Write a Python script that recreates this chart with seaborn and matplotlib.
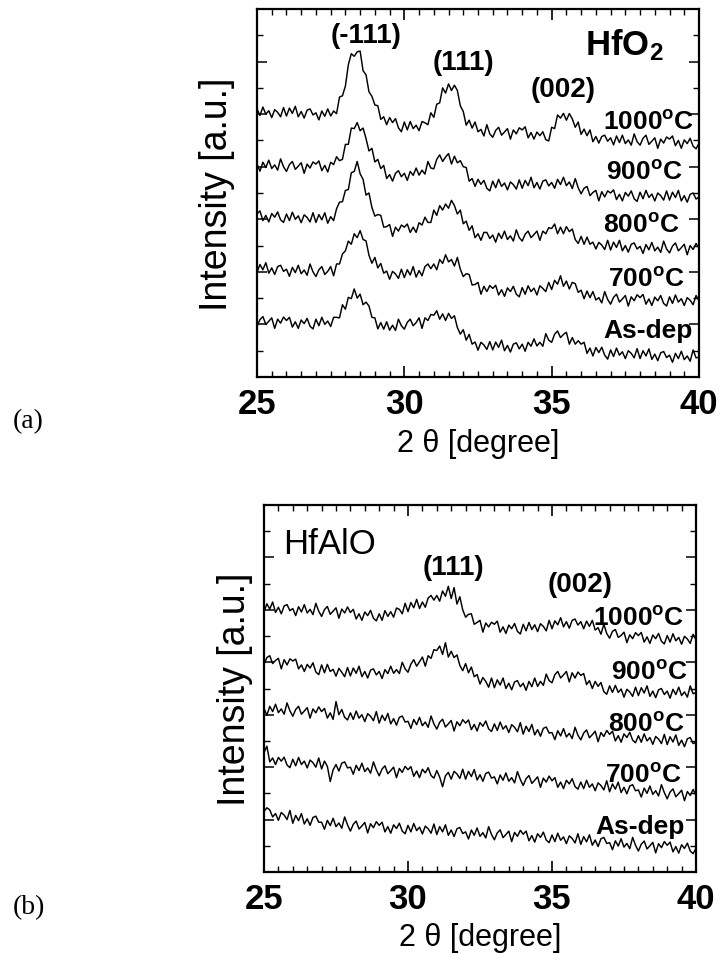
import numpy as np
import pandas as pd
import matplotlib
matplotlib.use("Agg")
import matplotlib.pyplot as plt
import seaborn as sns
from matplotlib.ticker import MultipleLocator

# ---------------- data ----------------
two_theta = np.linspace(25.0, 40.0, 151)   # scan grid, 0.1 deg step

# (a) HfO2
hfo2_1000 = [10.20, 9.95, 10.27, 10.00, 10.13, 9.87, 10.17, 10.07, 9.90, 10.25,
             9.93, 10.23, 10.03, 10.30, 9.90, 10.10, 9.85, 10.15, 10.20, 9.97,
             10.05, 9.78, 10.12, 9.92, 10.20, 9.93, 10.12, 10.02, 10.65, 10.70,
             11.07, 11.88, 12.30, 12.20, 12.37, 12.40, 11.65, 11.50, 10.85, 10.68,
             10.35, 10.32, 9.80, 9.90, 9.60, 9.87, 9.68, 9.83, 9.48, 9.33,
             9.70, 9.40, 9.72, 9.45, 9.58, 9.37, 9.72, 9.67, 9.60, 10.05,
             9.88, 10.38, 10.43, 11.00, 10.80, 11.15, 10.90, 11.10, 10.90, 10.32,
             10.10, 9.58, 9.77, 9.47, 9.70, 9.33, 9.42, 9.17, 9.60, 9.25,
             9.12, 9.38, 9.50, 9.20, 9.32, 9.45, 9.05, 9.40, 9.25, 9.48,
             9.40, 9.52, 9.10, 9.30, 9.05, 9.32, 9.18, 9.33, 9.03, 8.98,
             9.50, 9.45, 9.97, 9.85, 10.03, 9.77, 10.02, 9.82, 9.50, 9.70,
             9.23, 9.43, 9.18, 9.40, 8.95, 9.15, 8.90, 9.15, 9.20, 8.97,
             9.10, 8.83, 9.17, 8.92, 9.20, 8.88, 9.02, 8.82, 9.25, 8.95,
             8.82, 9.08, 9.20, 8.85, 8.97, 9.10, 8.70, 9.05, 8.90, 9.13,
             9.05, 9.17, 8.80, 9.00, 8.70, 9.02, 8.88, 9.08, 8.78, 8.68,
             8.90]
hfo2_900 = [8.10, 7.83, 8.17, 7.97, 8.25, 7.93, 8.07, 7.87, 8.30, 8.00,
            7.82, 8.08, 8.20, 7.90, 8.02, 8.15, 7.75, 8.10, 7.95, 8.18,
            8.10, 8.22, 7.85, 8.05, 7.80, 8.17, 8.08, 8.38, 8.23, 8.28,
            8.85, 8.85, 9.47, 9.45, 9.68, 9.37, 9.47, 9.07, 8.60, 8.70,
            8.18, 8.28, 7.93, 8.05, 7.55, 7.70, 7.45, 7.75, 7.85, 7.62,
            7.75, 7.48, 7.82, 7.67, 7.95, 7.68, 7.87, 7.72, 8.20, 7.95,
            7.92, 8.28, 8.45, 8.20, 8.37, 8.50, 8.10, 8.40, 8.15, 8.23,
            8.00, 7.97, 7.45, 7.55, 7.25, 7.52, 7.33, 7.48, 7.18, 7.08,
            7.45, 7.20, 7.52, 7.25, 7.38, 7.12, 7.42, 7.32, 7.15, 7.50,
            7.18, 7.48, 7.28, 7.60, 7.20, 7.40, 7.15, 7.45, 7.50, 7.27,
            7.40, 7.18, 7.52, 7.32, 7.60, 7.28, 7.42, 7.17, 7.55, 7.20,
            6.97, 7.18, 7.25, 6.90, 7.02, 7.10, 6.70, 7.05, 6.85, 7.08,
            7.00, 7.12, 6.75, 6.95, 6.70, 7.02, 6.88, 7.08, 6.78, 6.68,
            7.03, 6.78, 7.10, 6.83, 6.96, 6.70, 7.00, 6.90, 6.73, 7.08,
            6.73, 7.03, 6.83, 7.10, 6.70, 6.90, 6.65, 6.95, 7.00, 6.77,
            6.85]
hfo2_800 = [6.20, 6.32, 5.95, 6.15, 5.90, 6.22, 6.08, 6.28, 5.98, 5.88,
            6.20, 5.95, 6.27, 6.00, 6.13, 5.87, 6.17, 6.07, 5.90, 6.25,
            5.88, 6.18, 5.98, 6.25, 5.85, 6.10, 5.95, 6.40, 6.65, 6.67,
            7.10, 7.13, 7.77, 7.82, 8.20, 7.73, 7.52, 6.92, 7.00, 6.45,
            6.12, 6.18, 6.15, 5.70, 5.72, 5.80, 5.35, 5.70, 5.55, 5.78,
            5.70, 5.82, 5.50, 5.70, 5.50, 5.87, 5.78, 6.08, 5.88, 5.88,
            6.35, 6.15, 6.52, 6.35, 6.58, 6.42, 6.72, 6.52, 6.20, 6.35,
            5.83, 5.93, 5.58, 5.75, 5.30, 5.45, 5.20, 5.50, 5.50, 5.27,
            5.40, 5.13, 5.47, 5.27, 5.55, 5.23, 5.37, 5.17, 5.60, 5.30,
            5.17, 5.43, 5.55, 5.30, 5.42, 5.55, 5.20, 5.55, 5.45, 5.68,
            5.65, 5.82, 5.45, 5.70, 5.45, 5.72, 5.53, 5.63, 5.23, 5.08,
            5.35, 5.05, 5.32, 5.05, 5.13, 4.87, 5.12, 5.02, 4.85, 5.20,
            4.83, 5.13, 4.93, 5.20, 4.80, 5.00, 4.75, 5.05, 5.10, 4.87,
            4.97, 4.70, 5.04, 4.84, 5.12, 4.80, 4.94, 4.74, 5.17, 4.87,
            4.72, 4.98, 5.10, 4.80, 4.92, 5.05, 4.65, 5.00, 4.85, 5.08,
            4.90]
hfo2_700 = [3.98, 4.28, 4.08, 4.35, 3.95, 4.15, 3.90, 4.20, 4.25, 4.02,
            4.10, 3.83, 4.17, 3.97, 4.25, 3.93, 4.07, 3.87, 4.30, 4.00,
            3.82, 4.08, 4.20, 3.90, 4.02, 4.20, 3.85, 4.30, 4.30, 4.68,
            4.80, 5.17, 5.05, 5.45, 5.30, 5.57, 5.23, 5.18, 4.63, 4.33,
            4.55, 4.15, 4.32, 3.95, 4.03, 3.72, 4.02, 3.92, 3.75, 4.10,
            3.78, 4.08, 3.88, 4.20, 3.80, 4.05, 3.85, 4.20, 4.30, 4.12,
            4.30, 4.08, 4.47, 4.32, 4.65, 4.38, 4.47, 4.22, 4.55, 4.10,
            3.82, 3.93, 3.90, 3.50, 3.52, 3.60, 3.15, 3.45, 3.25, 3.48,
            3.37, 3.49, 3.12, 3.32, 3.07, 3.39, 3.25, 3.45, 3.15, 3.05,
            3.40, 3.15, 3.47, 3.25, 3.38, 3.12, 3.47, 3.37, 3.25, 3.60,
            3.33, 3.68, 3.53, 3.85, 3.45, 3.65, 3.35, 3.60, 3.55, 3.22,
            3.30, 2.98, 3.27, 3.02, 3.25, 2.93, 3.02, 2.82, 3.25, 2.95,
            2.77, 3.03, 3.15, 2.85, 2.97, 3.10, 2.70, 3.05, 2.90, 3.13,
            3.02, 3.14, 2.77, 2.97, 2.72, 3.04, 2.90, 3.10, 2.80, 2.70,
            3.05, 2.80, 3.12, 2.85, 2.98, 2.72, 3.02, 2.92, 2.75, 3.10,
            2.90]
hfo2_asdep = [1.92, 2.18, 2.30, 2.00, 2.12, 2.25, 1.85, 2.20, 2.05, 2.28,
              2.15, 2.27, 1.90, 2.10, 1.85, 2.17, 2.03, 2.23, 1.93, 1.83,
              2.20, 1.95, 2.27, 2.00, 2.13, 1.92, 2.27, 2.27, 2.25, 2.75,
              2.58, 3.03, 2.98, 3.35, 3.00, 3.15, 2.75, 2.85, 2.70, 2.27,
              2.25, 1.83, 2.07, 1.82, 2.10, 1.78, 1.97, 1.77, 2.20, 1.95,
              1.82, 2.08, 2.20, 1.95, 2.07, 2.25, 1.85, 2.25, 2.15, 2.38,
              2.35, 2.52, 2.20, 2.40, 2.15, 2.42, 2.23, 2.33, 1.88, 1.63,
              1.80, 1.40, 1.62, 1.25, 1.33, 1.02, 1.32, 1.22, 1.05, 1.35,
              1.03, 1.33, 1.13, 1.40, 1.00, 1.20, 0.95, 1.25, 1.30, 1.07,
              1.25, 0.98, 1.32, 1.17, 1.45, 1.18, 1.32, 1.17, 1.65, 1.40,
              1.32, 1.63, 1.75, 1.50, 1.62, 1.70, 1.25, 1.50, 1.25, 1.38,
              1.25, 1.32, 0.90, 1.10, 0.80, 1.12, 0.93, 1.13, 0.83, 0.68,
              1.03, 0.78, 1.10, 0.83, 0.96, 0.70, 1.00, 0.90, 0.73, 1.08,
              0.70, 1.00, 0.80, 1.07, 0.67, 0.87, 0.62, 0.92, 0.97, 0.74,
              0.83, 0.56, 0.90, 0.70, 0.98, 0.66, 0.80, 0.60, 1.03, 0.73,
              0.75]

# (b) HfAlO
hfalo_1000 = [9.93, 10.23, 10.03, 10.30, 9.90, 10.10, 9.85, 10.15, 10.20, 9.97,
              10.05, 9.78, 10.12, 9.92, 10.20, 9.88, 10.02, 9.82, 10.25, 9.95,
              9.75, 10.01, 10.13, 9.83, 9.95, 10.08, 9.68, 10.03, 9.88, 10.11,
              9.90, 10.02, 9.65, 9.85, 9.60, 9.92, 9.78, 9.98, 9.68, 9.58,
              9.85, 9.60, 9.97, 9.75, 9.93, 9.72, 10.07, 10.02, 9.85, 10.25,
              9.93, 10.28, 10.08, 10.40, 10.05, 10.30, 10.10, 10.45, 10.55, 10.37,
              10.55, 10.33, 10.72, 10.52, 10.90, 10.43, 10.85, 10.22, 10.50, 10.00,
              9.72, 9.83, 9.85, 9.45, 9.52, 9.60, 9.15, 9.50, 9.35, 9.53,
              9.45, 9.57, 9.15, 9.35, 9.10, 9.42, 9.28, 9.48, 9.18, 9.08,
              9.45, 9.20, 9.52, 9.25, 9.43, 9.17, 9.47, 9.37, 9.20, 9.60,
              9.28, 9.58, 9.43, 9.70, 9.35, 9.55, 9.30, 9.60, 9.65, 9.42,
              9.55, 9.28, 9.57, 9.37, 9.60, 9.23, 9.32, 9.07, 9.45, 9.10,
              8.92, 9.18, 9.25, 8.95, 9.02, 9.15, 8.75, 9.05, 8.90, 9.13,
              9.02, 9.14, 8.77, 8.97, 8.72, 9.04, 8.90, 9.10, 8.80, 8.70,
              9.02, 8.77, 9.09, 8.82, 8.95, 8.69, 8.99, 8.89, 8.72, 9.07,
              8.85]
hfalo_900 = [7.92, 8.18, 8.25, 7.95, 8.07, 8.15, 7.75, 8.10, 7.90, 8.13,
             8.05, 8.12, 7.75, 7.90, 7.65, 7.92, 7.78, 7.98, 7.63, 7.53,
             7.90, 7.60, 7.92, 7.65, 7.73, 7.47, 7.77, 7.62, 7.45, 7.80,
             7.48, 7.78, 7.58, 7.85, 7.45, 7.65, 7.40, 7.70, 7.75, 7.52,
             7.65, 7.38, 7.72, 7.57, 7.85, 7.58, 7.72, 7.57, 8.00, 7.75,
             7.62, 7.93, 8.10, 7.85, 8.02, 8.20, 7.85, 8.25, 8.15, 8.48,
             8.45, 8.62, 8.30, 8.75, 8.20, 8.42, 8.18, 8.28, 7.88, 7.68,
             7.95, 7.60, 7.82, 7.45, 7.53, 7.17, 7.42, 7.27, 7.05, 7.40,
             7.03, 7.33, 7.13, 7.40, 7.00, 7.20, 6.95, 7.25, 7.30, 7.07,
             7.20, 6.93, 7.27, 7.07, 7.40, 7.08, 7.27, 7.12, 7.55, 7.30,
             7.22, 7.53, 7.65, 7.40, 7.52, 7.65, 7.25, 7.60, 7.40, 7.63,
             7.50, 7.57, 7.15, 7.30, 7.00, 7.27, 7.08, 7.23, 6.88, 6.78,
             7.10, 6.85, 7.12, 6.85, 6.98, 6.67, 6.97, 6.87, 6.70, 7.05,
             6.73, 7.03, 6.83, 7.10, 6.70, 6.90, 6.65, 6.95, 7.00, 6.77,
             6.90, 6.63, 6.97, 6.77, 7.05, 6.73, 6.87, 6.67, 7.10, 6.80,
             6.85]
hfalo_800 = [6.25, 5.98, 6.32, 6.12, 6.40, 6.08, 6.22, 6.02, 6.45, 6.15,
             5.94, 6.20, 6.32, 6.02, 6.14, 6.27, 5.87, 6.22, 6.07, 6.30,
             6.12, 6.24, 5.87, 6.07, 5.82, 6.50, 6.00, 6.20, 5.90, 5.80,
             6.07, 5.82, 6.14, 5.87, 6.00, 5.74, 6.04, 5.94, 5.77, 6.12,
             5.68, 5.98, 5.78, 6.05, 5.65, 5.85, 5.60, 5.90, 5.95, 5.72,
             5.75, 5.48, 5.82, 5.62, 5.90, 5.58, 5.72, 5.52, 5.95, 5.65,
             5.45, 5.71, 5.83, 5.53, 5.65, 5.78, 5.38, 5.73, 5.58, 5.81,
             5.68, 5.80, 5.43, 5.63, 5.38, 5.70, 5.56, 5.76, 5.46, 5.36,
             5.65, 5.40, 5.72, 5.45, 5.58, 5.32, 5.62, 5.52, 5.35, 5.70,
             5.26, 5.56, 5.36, 5.63, 5.23, 5.43, 5.18, 5.48, 5.53, 5.30,
             5.32, 5.05, 5.39, 5.19, 5.47, 5.15, 5.29, 5.09, 5.52, 5.22,
             5.04, 5.30, 5.42, 5.12, 5.24, 5.37, 4.97, 5.32, 5.17, 5.40,
             5.25, 5.37, 5.00, 5.20, 4.95, 5.27, 5.13, 5.33, 5.03, 4.93,
             5.20, 4.95, 5.27, 5.00, 5.13, 4.87, 5.17, 5.07, 4.90, 5.25,
             4.86, 5.16, 4.96, 5.23, 4.83, 5.03, 4.78, 5.08, 5.13, 4.90,
             4.95]
hfalo_700 = [4.55, 4.80, 4.20, 4.35, 4.10, 4.37, 4.23, 4.38, 4.08, 3.98,
             4.30, 4.05, 4.37, 4.10, 4.23, 3.97, 4.27, 4.17, 4.00, 4.35,
             3.93, 4.23, 4.03, 3.45, 3.90, 4.10, 3.85, 4.15, 4.20, 3.97,
             4.00, 3.73, 4.07, 3.87, 4.15, 3.83, 3.97, 3.77, 4.20, 3.90,
             3.67, 3.93, 4.05, 3.75, 3.87, 4.00, 3.60, 3.95, 3.80, 4.03,
             3.90, 4.02, 3.65, 3.85, 3.60, 3.92, 3.78, 3.98, 3.68, 3.58,
             3.87, 3.62, 3.25, 3.67, 3.80, 3.54, 3.84, 3.74, 3.57, 3.92,
             3.54, 3.84, 3.64, 3.91, 3.51, 3.71, 3.46, 3.76, 3.81, 3.58,
             3.63, 3.36, 3.70, 3.50, 3.78, 3.46, 3.60, 3.40, 3.83, 3.53,
             3.30, 3.56, 3.68, 3.38, 3.50, 3.63, 3.23, 3.58, 3.43, 3.66,
             3.48, 3.60, 3.23, 3.43, 3.18, 3.50, 3.36, 3.56, 3.26, 3.16,
             3.43, 3.18, 3.50, 3.23, 3.36, 3.10, 3.40, 3.30, 3.13, 3.48,
             3.06, 3.36, 3.16, 3.43, 3.03, 3.23, 2.98, 3.28, 3.33, 3.10,
             3.13, 2.86, 3.20, 3.00, 3.28, 2.96, 3.10, 2.90, 3.33, 3.03,
             2.79, 3.05, 3.17, 2.87, 2.99, 3.12, 2.72, 3.07, 2.92, 3.15,
             2.92]
hfalo_asdep = [2.30, 2.45, 2.37, 2.10, 2.23, 1.97, 2.27, 2.17, 2.00, 2.35,
               1.86, 2.16, 1.96, 2.23, 1.83, 2.03, 1.78, 2.08, 2.13, 1.90,
               1.90, 1.63, 1.97, 1.77, 2.05, 1.73, 1.87, 1.67, 2.10, 1.80,
               1.56, 1.82, 1.94, 1.64, 1.76, 1.89, 1.49, 1.84, 1.69, 1.92,
               1.78, 1.90, 1.53, 1.73, 1.48, 1.80, 1.66, 1.86, 1.56, 1.46,
               1.78, 1.53, 1.85, 1.58, 1.71, 1.45, 1.75, 1.65, 1.48, 1.83,
               1.43, 1.73, 1.53, 1.80, 1.40, 1.60, 1.35, 1.65, 1.70, 1.47,
               1.53, 1.26, 1.60, 1.40, 1.68, 1.36, 1.50, 1.30, 1.73, 1.43,
               1.23, 1.49, 1.61, 1.31, 1.43, 1.56, 1.16, 1.51, 1.36, 1.59,
               1.44, 1.56, 1.19, 1.39, 1.14, 1.46, 1.32, 1.52, 1.22, 1.12,
               1.41, 1.16, 1.48, 1.21, 1.34, 1.08, 1.38, 1.28, 1.11, 1.46,
               1.05, 1.35, 1.15, 1.42, 1.02, 1.22, 0.97, 1.27, 1.32, 1.09,
               1.12, 0.85, 1.19, 0.99, 1.27, 0.95, 1.09, 0.89, 1.32, 1.02,
               0.80, 1.06, 1.18, 0.88, 1.00, 1.13, 0.73, 1.08, 0.93, 1.16,
               1.02, 1.14, 0.77, 0.97, 0.72, 1.04, 0.90, 1.10, 0.80, 0.70,
               0.90]

sample_names = ["1000", "900", "800", "700", "As-dep"]
sample_labels = ["1000$^{\\mathregular{o}}$C", "900$^{\\mathregular{o}}$C",
                 "800$^{\\mathregular{o}}$C", "700$^{\\mathregular{o}}$C", "As-dep"]
xtick_values = [25, 30, 35, 40]
xtick_labels = ["25", "30", "35", "40"]

# ---------------- style ----------------
sns.set_theme(style="ticks")
plt.rcParams['font.family'] = ['Liberation Sans', 'DejaVu Sans']
plt.rcParams['mathtext.fontset'] = 'custom'
plt.rcParams['mathtext.rm'] = 'Liberation Sans'
plt.rcParams['mathtext.bf'] = 'Liberation Sans:bold'
plt.rcParams['mathtext.it'] = 'Liberation Sans:italic'
for key in ['text.color', 'axes.labelcolor', 'xtick.color', 'ytick.color', 'axes.edgecolor']:
    plt.rcParams[key] = 'black'


def make_df(series):
    frames = []
    for name, vals in zip(sample_names, series):
        frames.append(pd.DataFrame({"two_theta": two_theta,
                                    "intensity": vals,
                                    "sample": name}))
    return pd.concat(frames, ignore_index=True)


df_a = make_df([hfo2_1000, hfo2_900, hfo2_800, hfo2_700, hfo2_asdep])
df_b = make_df([hfalo_1000, hfalo_900, hfalo_800, hfalo_700, hfalo_asdep])

fig = plt.figure(figsize=(7.2, 9.54), dpi=100)
ax_a = fig.add_axes([257 / 720, 1 - 378 / 954, 442 / 720, 368 / 954])
ax_b = fig.add_axes([264 / 720, 1 - 873 / 954, 432 / 720, 367 / 954])


def style_axes(ax, ylabelpad, xlabelpad):
    ax.set_xlim(25, 40)
    ax.set_ylim(0, 14)
    ax.set_xticks(xtick_values)
    ax.set_xticklabels(xtick_labels, fontsize=25, fontweight='bold', color='black')
    ax.xaxis.set_minor_locator(MultipleLocator(0.5))
    ax.yaxis.set_major_locator(MultipleLocator(2))
    ax.yaxis.set_minor_locator(MultipleLocator(1))
    ax.tick_params(axis='x', which='major', direction='in', length=8, width=1.2,
                   top=True, bottom=True, pad=7, colors='black')
    ax.tick_params(axis='x', which='minor', direction='in', length=4, width=1.0,
                   top=True, bottom=True, colors='black')
    ax.tick_params(axis='y', which='major', direction='in', length=7, width=1.1,
                   left=True, right=True, labelleft=False, colors='black')
    ax.tick_params(axis='y', which='minor', direction='in', length=4, width=1.0,
                   left=True, right=True, labelleft=False, colors='black')
    for sp in ax.spines.values():
        sp.set_visible(True)
        sp.set_linewidth(1.6)
        sp.set_color('black')
    ax.set_xlabel("2 \u03b8 [degree]", fontsize=22, labelpad=xlabelpad, color='black')
    ax.set_ylabel("Intensity [a.u.]", fontsize=27, labelpad=ylabelpad, color='black')
    ax.set_facecolor('white')


for ax, df in [(ax_a, df_a), (ax_b, df_b)]:
    sns.lineplot(data=df, x="two_theta", y="intensity", units="sample",
                 estimator=None, sort=False, color="black", linewidth=1.05,
                 legend=False, ax=ax)

style_axes(ax_a, 16, 6)
style_axes(ax_b, 8, 5)

# ---- annotations panel (a) ----
bold = dict(fontweight='bold', color='black')
ax_a.text(28.71, 13.0, "(-111)", fontsize=20, ha='center', va='center', **bold)
ax_a.text(32.0, 12.0, "(111)", fontsize=20, ha='center', va='center', **bold)
ax_a.text(35.4, 10.95, "(002)", fontsize=20, ha='center', va='center', **bold)
ax_a.text(37.45, 12.65, "HfO$_\\mathbf{2}$", fontsize=25, ha='center', va='center', **bold)
a_label_pos = [(39.85, 9.72), (39.45, 7.8), (39.35, 5.78), (39.5, 3.75), (39.8, 1.8)]
for (x, y), lab in zip(a_label_pos, sample_labels):
    ax_a.text(x, y, lab, fontsize=19, ha='right', va='center', **bold)

# ---- annotations panel (b) ----
ax_b.text(25.65, 12.55, "HfAlO", fontsize=25, ha='left', va='center', color='black')
ax_b.text(31.58, 11.63, "(111)", fontsize=20, ha='center', va='center', **bold)
ax_b.text(35.98, 10.99, "(002)", fontsize=20, ha='center', va='center', **bold)
b_label_pos = [(39.6, 9.68), (39.72, 7.64), (39.6, 5.67), (39.5, 3.7), (39.6, 1.74)]
for (x, y), lab in zip(b_label_pos, sample_labels):
    ax_b.text(x, y, lab, fontsize=19, ha='right', va='center', **bold)

# ---- panel letters ----
fig.text(28 / 720, 1 - 422 / 954, "(a)", fontsize=20, family=['Liberation Serif', 'DejaVu Serif'],
         ha='center', va='center', color='black')
fig.text(29 / 720, 1 - 908 / 954, "(b)", fontsize=20, family=['Liberation Serif', 'DejaVu Serif'],
         ha='center', va='center', color='black')

fig.savefig("out.png", dpi=100, facecolor='white')
